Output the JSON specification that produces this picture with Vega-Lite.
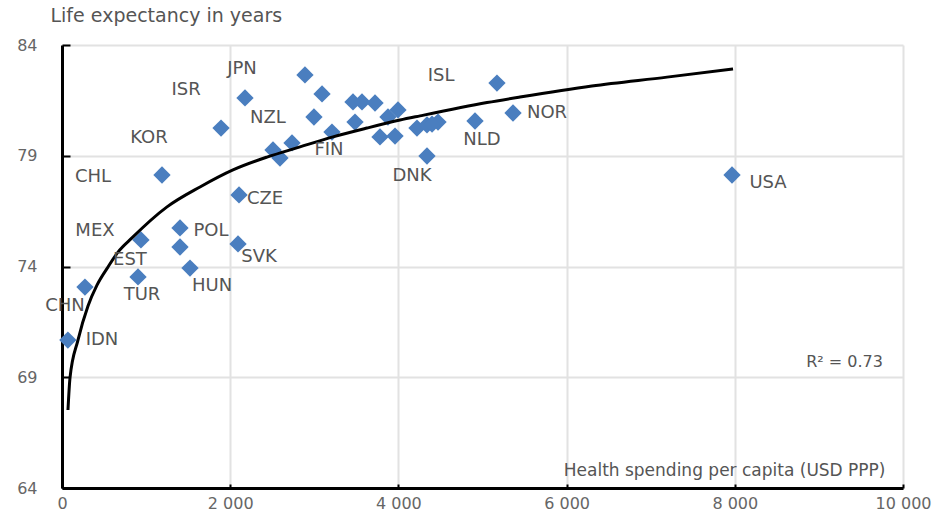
{
  "$schema": "https://vega.github.io/schema/vega-lite/v6.json",
  "autosize": {"type": "none"},
  "width": 841,
  "height": 443,
  "padding": {"left": 62, "top": 45, "right": 48, "bottom": 39},
  "background": "white",
  "config": {
    "view": {"stroke": null},
    "font": "DejaVu Sans"
  },
  "datasets": {
    "pts": [
      {"x": 2176, "y": 81.61, "country": "JPN"},
      {"x": 2889, "y": 82.65},
      {"x": 3092, "y": 81.79},
      {"x": 2996, "y": 80.75},
      {"x": 1891, "y": 80.25, "country": "ISR"},
      {"x": 2509, "y": 79.26, "country": "NZL"},
      {"x": 2592, "y": 78.9},
      {"x": 2735, "y": 79.58},
      {"x": 3210, "y": 80.07, "country": "FIN"},
      {"x": 3460, "y": 81.43},
      {"x": 3567, "y": 81.43},
      {"x": 3722, "y": 81.38},
      {"x": 3484, "y": 80.52},
      {"x": 3781, "y": 79.85},
      {"x": 3960, "y": 79.89},
      {"x": 3876, "y": 80.75},
      {"x": 3995, "y": 81.07},
      {"x": 4221, "y": 80.25},
      {"x": 4340, "y": 80.39},
      {"x": 4471, "y": 80.52},
      {"x": 4400, "y": 80.43},
      {"x": 4340, "y": 78.99, "country": "DNK"},
      {"x": 4911, "y": 80.57, "country": "NLD"},
      {"x": 5172, "y": 82.28, "country": "ISL"},
      {"x": 5363, "y": 80.93, "country": "NOR"},
      {"x": 7967, "y": 78.13, "country": "USA"},
      {"x": 1189, "y": 78.13, "country": "CHL"},
      {"x": 2105, "y": 77.23, "country": "CZE"},
      {"x": 1403, "y": 75.74, "country": "POL"},
      {"x": 1403, "y": 74.88},
      {"x": 939, "y": 75.2, "country": "MEX"},
      {"x": 2093, "y": 75.02, "country": "SVK"},
      {"x": 1522, "y": 73.93, "country": "HUN"},
      {"x": 904, "y": 73.53, "country": "TUR"},
      {"x": 273, "y": 73.07, "country": "CHN"},
      {"x": 70, "y": 70.68, "country": "IDN"}
    ],
    "trend": [
      {"x": 71, "y": 67.52},
      {"x": 95, "y": 68.97},
      {"x": 190, "y": 70.68},
      {"x": 309, "y": 72.22},
      {"x": 416, "y": 73.16},
      {"x": 547, "y": 73.98},
      {"x": 666, "y": 74.65},
      {"x": 832, "y": 75.29},
      {"x": 1249, "y": 76.69},
      {"x": 1641, "y": 77.59},
      {"x": 2033, "y": 78.36},
      {"x": 2438, "y": 78.94},
      {"x": 2830, "y": 79.4},
      {"x": 3222, "y": 79.85},
      {"x": 3627, "y": 80.25},
      {"x": 4019, "y": 80.61},
      {"x": 4257, "y": 80.8},
      {"x": 5054, "y": 81.4},
      {"x": 5446, "y": 81.65},
      {"x": 6300, "y": 82.15},
      {"x": 7194, "y": 82.55},
      {"x": 7979, "y": 82.92}
    ],
    "labels": [
      {"x": 2140, "y": 82.9, "text": "JPN"},
      {"x": 1475, "y": 81.97, "text": "ISR"},
      {"x": 2449, "y": 80.7, "text": "NZL"},
      {"x": 1035, "y": 79.78, "text": "KOR"},
      {"x": 3175, "y": 79.26, "text": "FIN"},
      {"x": 4507, "y": 82.6, "text": "ISL"},
      {"x": 5767, "y": 80.93, "text": "NOR"},
      {"x": 4994, "y": 79.7, "text": "NLD"},
      {"x": 4162, "y": 78.08, "text": "DNK"},
      {"x": 8395, "y": 77.78, "text": "USA"},
      {"x": 369, "y": 78.04, "text": "CHL"},
      {"x": 2414, "y": 77.05, "text": "CZE"},
      {"x": 392, "y": 75.62, "text": "MEX"},
      {"x": 1772, "y": 75.6, "text": "POL"},
      {"x": 808, "y": 74.3, "text": "EST"},
      {"x": 2343, "y": 74.43, "text": "SVK"},
      {"x": 951, "y": 72.7, "text": "TUR"},
      {"x": 1784, "y": 73.12, "text": "HUN"},
      {"x": 36, "y": 72.2, "text": "CHN"},
      {"x": 475, "y": 70.68, "text": "IDN"}
    ],
    "note": [
      {"x": 9762, "y": 69.7, "text": "R² = 0.73"}
    ]
  },
  "encoding": {
    "x": {
      "field": "x",
      "type": "quantitative",
      "scale": {"domain": [0, 10000], "nice": false, "zero": false},
      "axis": {
        "title": "Health spending per capita (USD PPP)",
        "titleFont": "DejaVu Sans",
        "titleFontSize": 17,
        "titleFontWeight": "normal",
        "titleColor": "#555555",
        "titleX": 823,
        "titleY": -18,
        "titleAlign": "right",
        "titleBaseline": "middle",
        "values": [0, 2000, 4000, 6000, 8000, 10000],
        "labelExpr": "replace(format(datum.value, ','), ',', ' ')",
        "labelFont": "DejaVu Sans",
        "labelFontSize": 16,
        "labelColor": "#666666",
        "labelPadding": 11,
        "labelFlush": false,
        "grid": true,
        "gridColor": "#e2e2e2",
        "gridWidth": 2,
        "domainColor": "#000000",
        "domainWidth": 3,
        "tickColor": "#000000",
        "tickWidth": 2,
        "tickSize": -4
      }
    },
    "y": {
      "field": "y",
      "type": "quantitative",
      "scale": {"domain": [64, 84], "nice": false, "zero": false},
      "axis": {
        "title": "Life expectancy in years",
        "titleFont": "DejaVu Sans",
        "titleFontSize": 19,
        "titleFontWeight": "normal",
        "titleColor": "#555555",
        "titleAngle": 0,
        "titleX": -12,
        "titleY": -30,
        "titleAlign": "left",
        "titleBaseline": "middle",
        "values": [64, 69, 74, 79, 84],
        "labelFont": "DejaVu Sans",
        "labelFontSize": 16,
        "labelColor": "#666666",
        "labelPadding": 33,
        "grid": true,
        "gridColor": "#e2e2e2",
        "gridWidth": 2,
        "domainColor": "#000000",
        "domainWidth": 3,
        "tickColor": "#000000",
        "tickWidth": 2,
        "tickSize": -8
      }
    }
  },
  "layer": [
    {
      "data": {"name": "pts"},
      "mark": {"type": "point", "shape": "diamond", "filled": true, "size": 300, "color": "#4a7ebf", "opacity": 1}
    },
    {
      "data": {"name": "trend"},
      "mark": {"type": "line", "color": "#000000", "strokeWidth": 3, "interpolate": "monotone"}
    },
    {
      "data": {"name": "labels"},
      "mark": {"type": "text", "font": "DejaVu Sans", "fontSize": 18, "color": "#555555", "align": "center", "baseline": "middle"},
      "encoding": {"text": {"field": "text"}}
    },
    {
      "data": {"name": "note"},
      "mark": {"type": "text", "font": "DejaVu Sans", "fontSize": 16, "color": "#555555", "align": "right", "baseline": "middle"},
      "encoding": {"text": {"field": "text"}}
    }
  ]
}
